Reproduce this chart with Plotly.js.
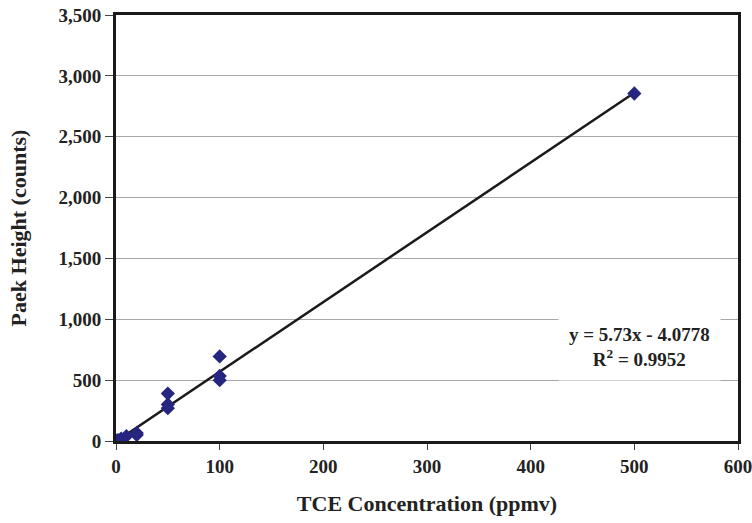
<!DOCTYPE html>
<html><head><meta charset="utf-8">
<script src="https://cdn.plot.ly/plotly-3.0.1.min.js"></script>
<style>body{margin:0;padding:0;background:#fff}#chart{width:752px;height:523px}</style>
</head><body><div id="chart"></div>
<script>
const concentration = [0, 1, 2, 5, 10, 20, 20, 50, 50, 50, 100, 100, 100, 500];
const peakHeight = [0, 3, 8, 20, 40, 50, 65, 270, 300, 390, 500, 535, 695, 2855];
const slope = 5.73;
const intercept = -4.0778;
const fitLabel = "y = 5.73x - 4.0778";
const r2Label = "R<sup>2</sup> = 0.9952";
const xTicks = [0, 100, 200, 300, 400, 500, 600];
const yTicks = [0, 500, 1000, 1500, 2000, 2500, 3000, 3500];
const yTickText = ["0", "500", "1,000", "1,500", "2,000", "2,500", "3,000", "3,500"];

const fitX = [Math.min(...concentration), Math.max(...concentration)];
const fitY = fitX.map(x => slope * x + intercept);

const fam = "Liberation Serif, Times New Roman, serif";
const b = s => "<b>" + s + "</b>";

const data = [
  {x: fitX, y: fitY, mode: "lines", line: {color: "#1a1a1a", width: 2.5}, hoverinfo: "skip", showlegend: false},
  {x: concentration, y: peakHeight, mode: "markers",
   marker: {symbol: "diamond", size: 11, color: "#262680"}, showlegend: false}
];

const layout = {
  width: 752, height: 523,
  margin: {l: 116, r: 14, t: 15, b: 82},
  paper_bgcolor: "#fff", plot_bgcolor: "#fff",
  font: {family: fam, color: "#222", size: 19},
  showlegend: false,
  xaxis: {
    range: [0, 600], tickvals: xTicks, ticktext: xTicks.map(v => b(String(v))),
    showgrid: false, zeroline: false,
    showline: true, linecolor: "#1a1a1a", linewidth: 3, mirror: true,
    ticks: "outside", ticklen: 6, tickwidth: 1, tickcolor: "#444",
    ticklabeloverflow: "allow",
    tickfont: {family: fam, size: 19, color: "#222"},
    title: {text: b("TCE Concentration (ppmv)"), font: {family: fam, size: 22, color: "#222"}, standoff: 20}
  },
  yaxis: {
    range: [0, 3500], tickvals: yTicks, ticktext: yTickText.map(b),
    showgrid: true, gridcolor: "#a8a8a8", gridwidth: 1, zeroline: false,
    showline: true, linecolor: "#1a1a1a", linewidth: 3, mirror: true,
    ticks: "outside", ticklen: 8, tickwidth: 1, tickcolor: "#444",
    tickfont: {family: fam, size: 19, color: "#222"},
    title: {text: b("Paek Height (counts)"), font: {family: fam, size: 22, color: "#222"}, standoff: 26}
  },
  annotations: [{
    xref: "x", yref: "y", x: 505, y: 770,
    text: b(fitLabel) + "<br>" + b(r2Label),
    showarrow: false, bgcolor: "#fff", borderpad: 10,
    align: "center",
    font: {family: fam, size: 19, color: "#222"}
  }]
};

Plotly.newPlot("chart", data, layout, {displayModeBar: false, staticPlot: true});
</script></body></html>
